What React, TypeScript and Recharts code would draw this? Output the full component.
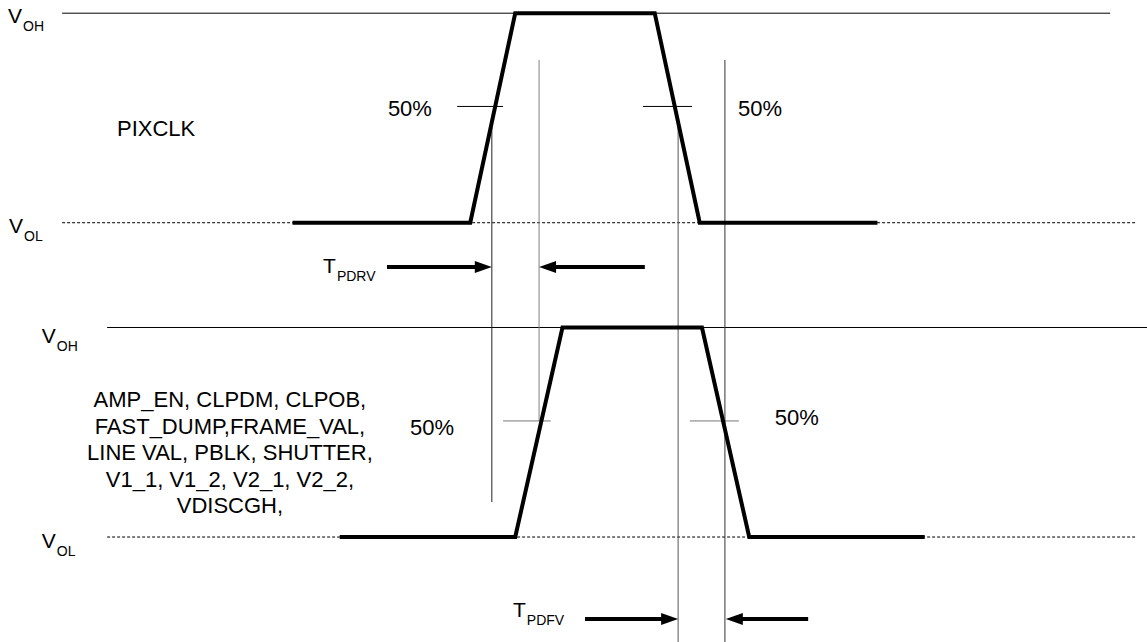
import { ComposedChart, Line, ReferenceDot, XAxis, YAxis } from "recharts";

// time axis (arbitrary ns units) and logic level rows: bottom row 0..1, top row 1.5..2.5
const T_DOMAIN: [number, number] = [0, 254.9];
const V_DOMAIN: [number, number] = [-0.501, 2.563];

const pixclk = [
  { t: 65, v: 1.5 },
  { t: 104.5, v: 1.5 },
  { t: 114.5, v: 2.5 },
  { t: 145.5, v: 2.5 },
  { t: 155.5, v: 1.5 },
  { t: 195, v: 1.5 }
];

const outputs = [
  { t: 75.5, v: 0 },
  { t: 114.5, v: 0 },
  { t: 125, v: 1 },
  { t: 156, v: 1 },
  { t: 166.5, v: 0 },
  { t: 205.5, v: 0 }
];

const highRails = [
  { from: 13.8, to: 246.7, v: 2.5 },
  { from: 23.8, to: 254.9, v: 1 }
];

const lowRails = [
  { from: 13.8, to: 252.4, v: 1.5 },
  { from: 23.8, to: 252.4, v: 0 }
];

const midTicks = [
  { from: 101.6, to: 111.8, v: 2.055, color: "#000" },
  { from: 142.9, to: 153.8, v: 2.055, color: "#000" },
  { from: 111.8, to: 122.4, v: 0.554, color: "#777" },
  { from: 153.3, to: 164.2, v: 0.554, color: "#777" }
];

const markers = [
  { t: 109.3, from: 1.99, to: 0.167, color: "#222" },
  { t: 119.8, from: 2.277, to: 0.554, color: "#808080" },
  { t: 150.7, from: 1.99, to: -0.501, color: "#555" },
  { t: 161.1, from: 2.277, to: -0.501, color: "#333" }
];

const arrows = [
  { from: 86, tip: 109.3, v: 1.289 },
  { from: 143.3, tip: 119.8, v: 1.289 },
  { from: 130, tip: 150.7, v: -0.391 },
  { from: 179.6, tip: 161.3, v: -0.391 }
];

const levelLabels = [
  { t: 1.8, v: 2.453, main: "V", sub: "OH" },
  { t: 2, v: 1.451, main: "V", sub: "OL" },
  { t: 9.3, v: 0.926, main: "V", sub: "OH" },
  { t: 9.3, v: -0.0525, main: "V", sub: "OL" },
  { t: 71.8, v: 1.26, main: "T", sub: "PDRV" },
  { t: 114, v: -0.382, main: "T", sub: "PDFV" }
];

const percentLabels = [
  { t: 86.2, v: 2.01, text: "50%" },
  { t: 164, v: 2.01, text: "50%" },
  { t: 91.1, v: 0.487, text: "50%" },
  { t: 172.2, v: 0.535, text: "50%" }
];

const outputNames = [
  "AMP_EN, CLPDM, CLPOB,",
  "FAST_DUMP,FRAME_VAL,",
  "LINE VAL, PBLK, SHUTTER,",
  "V1_1, V1_2, V2_1, V2_2,",
  "VDISCGH,"
];

const FONT = "'Liberation Sans', Arial, sans-serif";

function seg(a: number, b: number, v: number) {
  return [
    { t: a, v },
    { t: b, v }
  ];
}

const plain = { dot: false, activeDot: false, isAnimationActive: false, dataKey: "v" } as const;

export default function App() {
  return (
    <div style={{ position: "absolute", left: 0, top: 0, background: "#fff" }}>
      <ComposedChart width={1147} height={642} margin={{ top: 0, right: 0, bottom: 0, left: 0 }}>
        <XAxis type="number" dataKey="t" domain={T_DOMAIN} hide allowDataOverflow />
        <YAxis type="number" dataKey="v" domain={V_DOMAIN} hide allowDataOverflow />

        {highRails.map((r, i) => (
          <Line key={"h" + i} {...plain} data={seg(r.from, r.to, r.v)} stroke="#000" strokeWidth={1} />
        ))}
        {lowRails.map((r, i) => (
          <Line key={"l" + i} {...plain} data={seg(r.from, r.to, r.v)} stroke="#000" strokeWidth={1} strokeDasharray="3 2" />
        ))}
        {midTicks.map((r, i) => (
          <Line key={"m" + i} {...plain} data={seg(r.from, r.to, r.v)} stroke={r.color} strokeWidth={1} />
        ))}
        {markers.map((m, i) => (
          <Line
            key={"k" + i}
            {...plain}
            data={[
              { t: m.t, v: m.from },
              { t: m.t, v: m.to }
            ]}
            stroke={m.color}
            strokeWidth={1}
          />
        ))}

        <Line {...plain} data={pixclk} stroke="#000" strokeWidth={4} />
        <Line {...plain} data={outputs} stroke="#000" strokeWidth={4} />

        {arrows.map((a, i) => {
          const dir = a.tip > a.from ? 1 : -1;
          return <Line key={"a" + i} {...plain} data={seg(a.from, a.tip - dir * 3, a.v)} stroke="#000" strokeWidth={4} />;
        })}
        {arrows.map((a, i) => {
          const dir = a.tip > a.from ? 1 : -1;
          return (
            <ReferenceDot
              key={"ah" + i}
              x={a.tip}
              y={a.v}
              r={0}
              shape={(p: any) => (
                <polygon
                  points={`${p.cx},${p.cy} ${p.cx - dir * 17},${p.cy - 6} ${p.cx - dir * 17},${p.cy + 6}`}
                  fill="#000"
                />
              )}
            />
          );
        })}

        {levelLabels.map((l, i) => (
          <ReferenceDot
            key={"lv" + i}
            x={l.t}
            y={l.v}
            r={0}
            shape={(p: any) => (
              <text x={p.cx} y={p.cy} fontFamily={FONT} fontSize={21} fill="#000">
                {l.main}
                <tspan dx={1} dy={8} fontSize={14}>
                  {l.sub}
                </tspan>
              </text>
            )}
          />
        ))}

        {percentLabels.map((l, i) => (
          <ReferenceDot
            key={"pc" + i}
            x={l.t}
            y={l.v}
            r={0}
            shape={(p: any) => (
              <text x={p.cx} y={p.cy} fontFamily={FONT} fontSize={22} fill="#000">
                {l.text}
              </text>
            )}
          />
        ))}

        <ReferenceDot
          x={26}
          y={1.914}
          r={0}
          shape={(p: any) => (
            <text x={p.cx} y={p.cy} fontFamily={FONT} fontSize={22} fill="#000">
              PIXCLK
            </text>
          )}
        />

        <ReferenceDot
          x={51.1}
          y={0.6205}
          r={0}
          shape={(p: any) => (
            <text x={p.cx} y={p.cy} fontFamily={FONT} fontSize={22} fill="#000" textAnchor="middle">
              {outputNames.map((n, i) => (
                <tspan key={i} x={p.cx} dy={i === 0 ? 0 : 26.5}>
                  {n}
                </tspan>
              ))}
            </text>
          )}
        />
      </ComposedChart>
    </div>
  );
}
